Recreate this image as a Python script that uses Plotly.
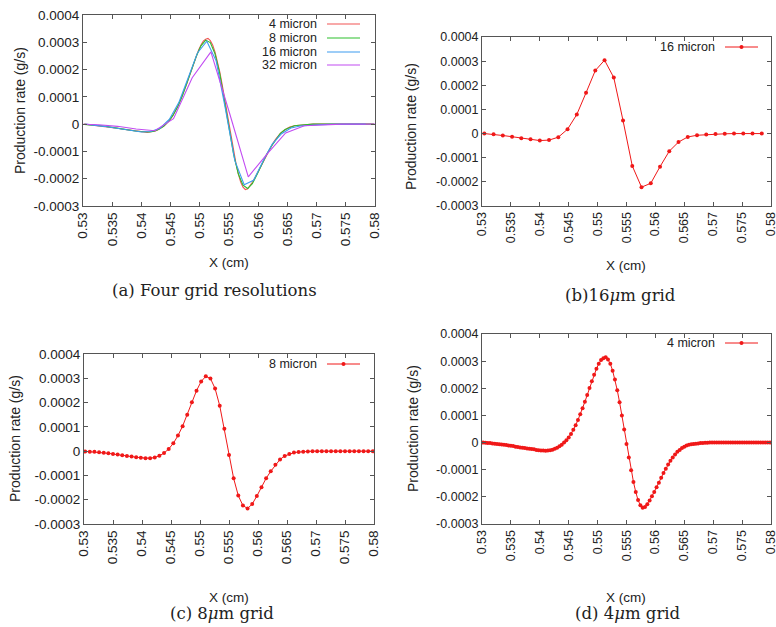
import plotly.graph_objects as go

# ---------------- data ----------------
x4 = [0.5302, 0.5306, 0.5310, 0.5314, 0.5318, 0.5322, 0.5326, 0.5330, 0.5334, 0.5338,
      0.5342, 0.5346, 0.5350, 0.5354, 0.5358, 0.5362, 0.5366, 0.5370, 0.5374, 0.5378,
      0.5382, 0.5386, 0.5390, 0.5394, 0.5398, 0.5402, 0.5406, 0.5410, 0.5414, 0.5418,
      0.5422, 0.5426, 0.5430, 0.5434, 0.5438, 0.5442, 0.5446, 0.5450, 0.5454, 0.5458,
      0.5462, 0.5466, 0.5470, 0.5474, 0.5478, 0.5482, 0.5486, 0.5490, 0.5494, 0.5498,
      0.5502, 0.5506, 0.5510, 0.5514, 0.5518, 0.5522, 0.5526, 0.5530, 0.5534, 0.5538,
      0.5542, 0.5546, 0.5550, 0.5554, 0.5558, 0.5562, 0.5566, 0.5570, 0.5574, 0.5578,
      0.5582, 0.5586, 0.5590, 0.5594, 0.5598, 0.5602, 0.5606, 0.5610, 0.5614, 0.5618,
      0.5622, 0.5626, 0.5630, 0.5634, 0.5638, 0.5642, 0.5646, 0.5650, 0.5654, 0.5658,
      0.5662, 0.5666, 0.5670, 0.5674, 0.5678, 0.5682, 0.5686, 0.5690, 0.5694, 0.5698,
      0.5702, 0.5706, 0.5710, 0.5714, 0.5718, 0.5722, 0.5726, 0.5730, 0.5734, 0.5738,
      0.5742, 0.5746, 0.5750, 0.5754, 0.5758, 0.5762, 0.5766, 0.5770, 0.5774, 0.5778,
      0.5782, 0.5786, 0.5790, 0.5794, 0.5798]
y4 = [0.0, -0.000001, -0.000002, -0.000002, -0.000003, -0.000004, -0.000005, -0.000006, -0.000007, -0.000008,
      -0.000009, -0.000011, -0.000012, -0.000013, -0.000015, -0.000016, -0.000018, -0.000019, -0.000020, -0.000022,
      -0.000023, -0.000024, -0.000025, -0.000027, -0.000028, -0.000029, -0.000029, -0.000030, -0.000029, -0.000028,
      -0.000026, -0.000023, -0.000019, -0.000014, -0.000008, 0.000000, 0.000009, 0.000019, 0.000032, 0.000047,
      0.000064, 0.000083, 0.000104, 0.000126, 0.000150, 0.000175, 0.000201, 0.000226, 0.000250, 0.000272,
      0.000290, 0.000304, 0.000311, 0.000314, 0.000306, 0.000290, 0.000265, 0.000232, 0.000193, 0.000149,
      0.000100, 0.000048, -0.000005, -0.000055, -0.000102, -0.000145, -0.000182, -0.000212, -0.000231, -0.000240,
      -0.000237, -0.000227, -0.000213, -0.000198, -0.000182, -0.000165, -0.000148, -0.000130, -0.000112, -0.000096,
      -0.000081, -0.000067, -0.000055, -0.000044, -0.000034, -0.000027, -0.000020, -0.000015, -0.000011, -0.000008,
      -0.000006, -0.000005, -0.000004, -0.000003, -0.000002, -0.000002, -0.000001, -0.000001, 0.0, 0.0,
      0.0, 0.0, 0.0, 0.0, 0.0, 0.0, 0.0, 0.0, 0.0, 0.0,
      0.0, 0.0, 0.0, 0.0, 0.0, 0.0, 0.0, 0.0, 0.0, 0.0,
      0.0, 0.0, 0.0, 0.0, 0.0]

x8 = [0.5302, 0.5310, 0.5318, 0.5326, 0.5334, 0.5342, 0.5350, 0.5358, 0.5366, 0.5374,
      0.5382, 0.5390, 0.5398, 0.5406, 0.5414, 0.5422, 0.5430, 0.5438, 0.5446, 0.5454,
      0.5462, 0.5470, 0.5478, 0.5486, 0.5494, 0.5502, 0.5510, 0.5518, 0.5526, 0.5534,
      0.5542, 0.5550, 0.5558, 0.5566, 0.5574, 0.5582, 0.5590, 0.5598, 0.5606, 0.5614,
      0.5622, 0.5630, 0.5638, 0.5646, 0.5654, 0.5662, 0.5670, 0.5678, 0.5686, 0.5694,
      0.5702, 0.5710, 0.5718, 0.5726, 0.5734, 0.5742, 0.5750, 0.5758, 0.5766, 0.5774,
      0.5782, 0.5790, 0.5798]
y8 = [-0.000001, -0.000002, -0.000003, -0.000005, -0.000007, -0.000009, -0.000012, -0.000014, -0.000017, -0.000020,
      -0.000022, -0.000025, -0.000027, -0.000029, -0.000029, -0.000026, -0.000019, -0.000008, 0.000009, 0.000032,
      0.000064, 0.000103, 0.000150, 0.000201, 0.000249, 0.000287, 0.000308, 0.000299, 0.000258, 0.000187,
      0.000092, -0.000016, -0.000112, -0.000183, -0.000224, -0.000236, -0.000218, -0.000185, -0.000149, -0.000112,
      -0.000083, -0.000056, -0.000034, -0.000020, -0.000012, -0.000006, -0.000004, -0.000002, -0.000001, 0.0,
      0.0, 0.0, 0.0, 0.0, 0.0, 0.0, 0.0, 0.0, 0.0, 0.0,
      0.0, 0.0, 0.0]

x16 = [0.5304, 0.5320, 0.5336, 0.5352, 0.5368, 0.5384, 0.5400, 0.5416, 0.5432, 0.5448,
       0.5464, 0.5480, 0.5496, 0.5512, 0.5528, 0.5544, 0.5560, 0.5576, 0.5592, 0.5608,
       0.5624, 0.5640, 0.5656, 0.5672, 0.5688, 0.5704, 0.5720, 0.5736, 0.5752, 0.5768,
       0.5784]
y16 = [0.0, -0.000003, -0.000008, -0.000013, -0.000019, -0.000024, -0.000029, -0.000027, -0.000015, 0.000018,
       0.000079, 0.000169, 0.000261, 0.000304, 0.000232, 0.000054, -0.000134, -0.000222, -0.000206, -0.000137,
       -0.000073, -0.000035, -0.000014, -0.000007, -0.000004, -0.000002, -0.000001, 0.0, 0.0, 0.0,
       0.0]

x32 = [0.5295, 0.5327, 0.5359, 0.5391, 0.5423, 0.5455, 0.5487, 0.5519, 0.5551, 0.5583,
       0.5615, 0.5647, 0.5679, 0.5711, 0.5743, 0.5775, 0.5807]
y32 = [0.0, -0.000002, -0.000008, -0.000018, -0.000024, 0.000020, 0.000170, 0.000265, 0.000040, -0.000193,
       -0.000110, -0.000032, -0.000006, -0.000002, 0.0, 0.0, 0.0]

series_names = ["4 micron", "8 micron", "16 micron", "32 micron"]
xtick_vals = [0.53, 0.535, 0.54, 0.545, 0.55, 0.555, 0.56, 0.565, 0.57, 0.575, 0.58]
xtick_text = ["0.53", "0.535", "0.54", "0.545", "0.55", "0.555", "0.56", "0.565", "0.57", "0.575", "0.58"]
ytick_vals = [0.0004, 0.0003, 0.0002, 0.0001, 0.0, -0.0001, -0.0002, -0.0003]
ytick_text = ["0.0004", "0.0003", "0.0002", "0.0001", "0", "-0.0001", "-0.0002", "-0.0003"]
captions = ["(a) Four grid resolutions", "(b)16<i>μ</i>m grid", "(c) 8<i>μ</i>m grid", "(d) 4<i>μ</i>m grid"]

# ---------------- layout helpers ----------------
W, H = 776, 627
def PX(p):
    return p / W
def PY(p):
    return 1 - p / H

SANS = "Liberation Sans, Arial, sans-serif"
SERIF = "DejaVu Serif, serif"
RED = "#f01818"
COLS_A = ["#f25555", "#2cbf2c", "#3c9cf0", "#c24cf2"]

# panel boxes in pixels: (left, right, top, bottom)
boxes = {
    "a": (83, 375, 15, 206),
    "b": (482, 771, 37, 206),
    "c": (84, 374, 354, 524),
    "d": (482, 771, 334, 524),
}
tickfs = {"a": 13.5, "b": 12.5, "c": 13.5, "d": 12.5}

fig = go.Figure()

# panel a : four resolutions
for xs, ys, nm, c in zip([x4, x8, x16, x32], [y4, y8, y16, y32], series_names, COLS_A):
    fig.add_trace(go.Scatter(x=xs, y=ys, mode="lines", name=nm,
                             line=dict(color=c, width=1.1), xaxis="x", yaxis="y"))
# panel b : 16 micron
fig.add_trace(go.Scatter(x=x16, y=y16, mode="lines+markers", name=series_names[2],
                         line=dict(color=RED, width=1), marker=dict(color=RED, size=4),
                         xaxis="x2", yaxis="y2"))
# panel c : 8 micron
fig.add_trace(go.Scatter(x=x8, y=y8, mode="lines+markers", name=series_names[1],
                         line=dict(color=RED, width=1), marker=dict(color=RED, size=4),
                         xaxis="x3", yaxis="y3"))
# panel d : 4 micron
fig.add_trace(go.Scatter(x=x4, y=y4, mode="lines+markers", name=series_names[0],
                         line=dict(color=RED, width=1), marker=dict(color=RED, size=4),
                         xaxis="x4", yaxis="y4"))

layout = dict(width=W, height=H, margin=dict(l=0, r=0, t=0, b=0, autoexpand=False),
              paper_bgcolor="white", plot_bgcolor="white", showlegend=False)

for i, key in enumerate(["a", "b", "c", "d"]):
    l, r, t, b = boxes[key]
    sfx = "" if i == 0 else str(i + 1)
    common = dict(showgrid=False, zeroline=False, showline=True, linecolor="#555555",
                  linewidth=1, mirror="ticks", ticks="inside", ticklen=4, automargin=False,
                  ticklabeloverflow="allow",
                  tickcolor="#555555", tickfont=dict(family=SANS, size=tickfs[key], color="#222222"))
    layout["xaxis" + sfx] = dict(common, domain=[PX(l), PX(r)], range=[0.53, 0.58],
                                 anchor="y" + sfx, tickvals=xtick_vals, ticktext=xtick_text,
                                 tickangle=-90)
    layout["yaxis" + sfx] = dict(common, domain=[PY(b), PY(t)], range=[-0.0003, 0.0004],
                                 anchor="x" + sfx, tickvals=ytick_vals, ticktext=ytick_text)

annotations = []
shapes = []

def text(x, y, s, size=13, font=SANS, xanchor="center", angle=0):
    annotations.append(dict(x=PX(x), y=PY(y), xref="paper", yref="paper", text=s,
                            showarrow=False, xanchor=xanchor, yanchor="middle", textangle=angle,
                            borderpad=0,
                            font=dict(family=font, size=size, color="#222222")))

# axis titles
for (xc, yc, yl_x, yl_y) in [(229, 263, 20, 111), (626, 265, 411, 127),
                              (229, 597, 15, 439), (626, 597, 413, 429)]:
    text(xc, yc, "X (cm)", size=13.5)
    text(yl_x, yl_y, "Production rate (g/s)", size=14, angle=-90)

# captions
text(214, 290, captions[0], size=16.5, font=SERIF)
text(620, 295, captions[1], size=16.5, font=SERIF)
text(222, 613, captions[2], size=16.5, font=SERIF)
text(628, 613, captions[3], size=16.5, font=SERIF)

# legends (gnuplot style: text right, sample to the right)
for nm, c, yy in zip(series_names, COLS_A, [24, 38, 52, 65]):
    text(318, yy, nm, size=12.5, xanchor="right")
    shapes.append(dict(type="line", xref="paper", yref="paper", x0=PX(327), x1=PX(360),
                       y0=PY(yy), y1=PY(yy), line=dict(color=c, width=1.2)))

for nm, xr, yy, l0, l1 in [(series_names[2], 716, 47, 725, 758),
                            (series_names[1], 318, 364, 327, 360),
                            (series_names[0], 716, 343, 725, 758)]:
    text(xr, yy, nm, size=12.5, xanchor="right")
    shapes.append(dict(type="line", xref="paper", yref="paper", x0=PX(l0), x1=PX(l1),
                       y0=PY(yy), y1=PY(yy), line=dict(color=RED, width=1)))
    cx = (l0 + l1) / 2
    shapes.append(dict(type="circle", xref="paper", yref="paper", x0=PX(cx - 2), x1=PX(cx + 2),
                       y0=PY(yy + 2), y1=PY(yy - 2), fillcolor=RED, line=dict(width=0)))

layout["annotations"] = annotations
layout["shapes"] = shapes
fig.update_layout(**layout)

fig.write_html("out.html", config={"displayModeBar": False},
               post_script="document.body.style.margin='0';document.body.style.overflow='hidden';")
